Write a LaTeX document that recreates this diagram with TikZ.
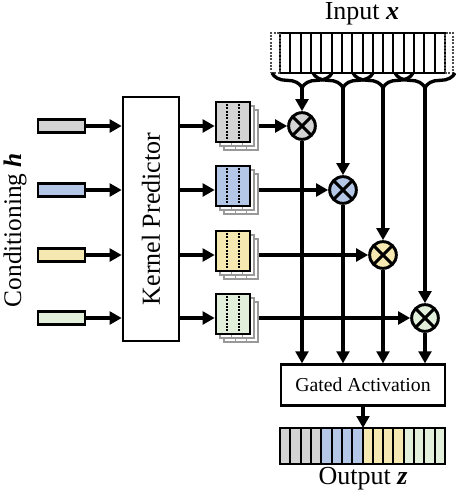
\documentclass[tikz,border=0pt]{standalone}
\usepackage{fontspec}
\setmainfont{Liberation Serif}
\usetikzlibrary{calc,arrows.meta,positioning,decorations.pathreplacing}
\definecolor{kgray}{HTML}{D3D3D3}
\definecolor{kblue}{HTML}{B4C7E7}
\definecolor{kyellow}{HTML}{F5E8B0}
\definecolor{kgreen}{HTML}{E2EFDA}
\tikzset{cell/.style={draw,line width=1.5pt,inner sep=0pt,outer sep=0pt,minimum width=7.73pt}}

\begin{document}
\begin{tikzpicture}[x=0.75pt,y=-0.75pt,line width=2.5pt,>={Triangle[length=9pt,width=9.5pt]}]

\tikzset{condbar/.style={draw,line width=1.9pt,inner sep=0pt,minimum width=35pt,minimum height=10pt},
kerfront/.style={draw,line width=1.9pt,inner sep=0pt,minimum width=25.5pt,minimum height=30pt},
kerback/.style={kerfront,line width=1.5pt,draw=black!40,fill=white},
mult/.style={draw,circle,line width=2.2pt,inner sep=0pt,minimum size=20pt,
  path picture={\draw[line width=2.2pt] (path picture bounding box.north west) -- (path picture bounding box.south east)
  (path picture bounding box.north east) -- (path picture bounding box.south west);}},
bigbox/.style={draw,line width=1.9pt,inner sep=0pt}}

\useasboundingbox (0,0) rectangle (456,496);

% Input
\node[font=\fontsize{19.5}{20}\selectfont] (inlabel) at (362,14) {Input \textbf{\textit{x}}};
\foreach \k in {1,...,16} \node[cell,minimum height=30pt] (in\k) at (280+\k*10.3125-5.156,53) {};
\node[cell,densely dotted,draw=black!70,minimum width=6.75pt,minimum height=30pt,anchor=east] (padl) at (in1.west) {};
\node[cell,densely dotted,draw=black!70,minimum width=6pt,minimum height=30pt,anchor=west] (padr) at (in16.east) {};

% Braces
\foreach \i/\x in {1/302,2/343,3/383,4/425} {
  \draw[decorate,decoration={brace,mirror,amplitude=11pt}] (\x-30,73) -- (\x+30,73);
  \coordinate (tip\i) at (\x,88);
}

% Conditioning
\node[rotate=90,font=\fontsize{19}{20}\selectfont] (condlabel) at (15,230) {Conditioning \textbf{\textit{h}}};

% Kernel predictor
\node[bigbox,minimum width=42pt,minimum height=183pt] (kp) at (151,219) {};
\node[rotate=90,font=\fontsize{19.5}{20}\selectfont] (kplabel) at (kp.center) {Kernel Predictor};

% Gated activation
\node[bigbox,minimum width=123pt,minimum height=30.5pt,font=\fontsize{14.8}{16}\selectfont] (gate) at (363,385) {Gated Activation};

% Rows
\foreach \i/\c/\y/\x in {1/kgray/126/302,2/kblue/190/343,3/kyellow/255/383,4/kgreen/318/425} {
  \node[condbar,fill=\c] (cond\i) at (61.5,\y) {};
  \node[kerback] (kerb\i) at (241,\y+4) {};
  \foreach \d in {-5.67,5.67}
    \draw[densely dotted,line width=1.2pt,black!40] ($(kerb\i.north)+(\d,0)$) -- ($(kerb\i.south)+(\d,0)$);
  \node[kerback] (kera\i) at (237,\y) {};
  \foreach \d in {-5.67,5.67}
    \draw[densely dotted,line width=1.2pt,black!40] ($(kera\i.north)+(\d,0)$) -- ($(kera\i.south)+(\d,0)$);
  \node[kerfront,fill=\c] (kerf\i) at (233,\y-4) {};
  \foreach \d in {-5.67,5.67}
    \draw[densely dotted,line width=1.5pt] ($(kerf\i.north)+(\d,0)$) -- ($(kerf\i.south)+(\d,0)$);
  \node[mult,fill=\c] (mul\i) at (\x,\y) {};
  % edges
  \draw[->] (cond\i.east) -- (kp.west |- cond\i);
  \draw[->] (kp.east |- mul\i) -- (kerf\i.west |- mul\i);
  \draw[->] (kerb\i.east |- mul\i) -- (mul\i);
  \draw[->] (tip\i) -- (mul\i);
  \draw[->] (mul\i) -- (mul\i |- gate.north);
}

% Output
\foreach \c [count=\g from 0] in {kgray,kblue,kyellow,kgreen}
  \foreach \k in {1,...,4} \node[cell,fill=\c,minimum height=27pt] (out\g\k) at (280+\g*41.25+\k*10.3125-5.156,446) {};
\draw[->] (gate.south) -- (gate.south |- out14.north);
\node[font=\fontsize{19.5}{20}\selectfont] (outlabel) at (363,479) {Output \textbf{\textit{z}}};

\end{tikzpicture}
\end{document}
